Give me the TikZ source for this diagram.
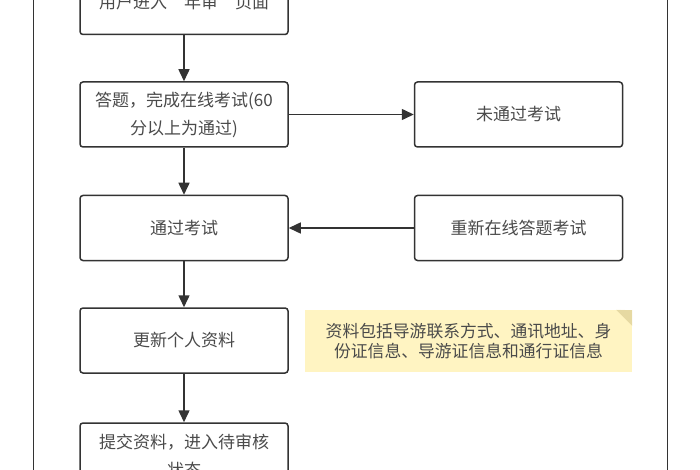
\documentclass[tikz,border=0pt]{standalone}
\usepackage{fontspec}
\usepackage{xcolor}
\usepackage{tikz}
\usetikzlibrary{arrows.meta,positioning,calc}
\newfontfamily\cjk{Noto Sans CJK SC}
\definecolor{ink}{HTML}{333333}
\definecolor{textgray}{HTML}{4A4A4A}
\definecolor{noteyellow}{HTML}{FFF4C2}
\definecolor{notefold}{HTML}{E6D9A2}

\begin{document}
\begin{tikzpicture}[x=1pt,y=-1pt,
  box/.style={draw=ink,line width=1.5pt,rounded corners=3pt,fill=white,
    minimum width=208pt,minimum height=65pt,text width=194pt,align=center,
    text=textgray,font=\cjk\fontsize{17}{28}\selectfont,inner sep=0pt},
  note/.style={fill=noteyellow,minimum width=327pt,minimum height=62pt,
    text width=314pt,align=center,text=textgray,
    font=\cjk\fontsize{16.8}{19.5}\selectfont,inner sep=0pt},
  arrow/.style={-{Triangle[length=12pt,width=11pt]},line width=1.5pt,draw=ink},
  frame/.style={draw=ink,line width=1pt}
]
\useasboundingbox (0,0) rectangle (700,470);
% outer frame
\draw[frame] (33,0) -- (33,470);
\draw[frame] (667,0) -- (667,470);
% left column
\node[box] (enter) at (184,2) {用户进入“年审”页面};
\node[box] (exam) at (184,114.5) {答题，完成在线考试(60\\分以上为通过)};
\node[box] (pass) at (184,228) {通过考试};
\node[box] (update) at (184,340.5) {更新个人资料};
\node[box] (submit) at (184,455.5) {提交资料，进入待审核\\状态};
% right column
\node[box] (fail) at (518.5,114.5) {未通过考试};
\node[box] (retry) at (518.5,228) {重新在线答题考试};
% note
\node[note] (info) at (468.5,341) {资料包括导游联系方式、通讯地址、身\\份证信息、导游证信息和通行证信息};
\fill[notefold] ($(info.north east)+(-16,0)$) -- (info.north east) -- ($(info.north east)+(0,16)$) -- cycle;
\fill[white] ($(info.north east)+(-16,0)$) -- ($(info.north east)+(0,-1)$) -- ($(info.north east)+(1,16)$) -- (info.north east) -- cycle;
% connectors
\draw[arrow] (enter) -- (exam);
\draw[arrow] (exam) -- (fail);
\draw[arrow] (exam) -- (pass);
\draw[arrow] (retry) -- (pass);
\draw[arrow] (pass) -- (update);
\draw[arrow] (update) -- (submit);
\end{tikzpicture}
\end{document}
